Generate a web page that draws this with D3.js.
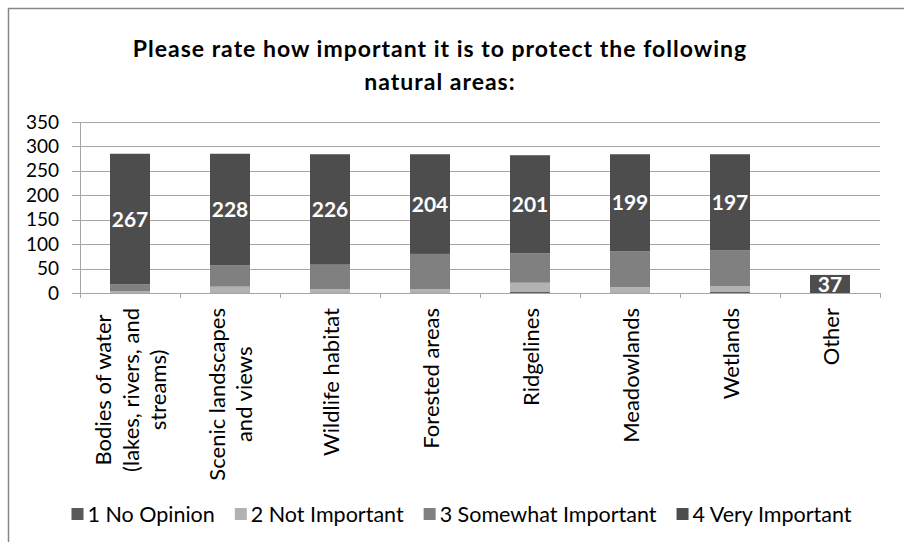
<!DOCTYPE html>
<html>
<head>
<meta charset="utf-8">
<script src="https://cdn.jsdelivr.net/npm/d3@7"></script>
<style>
    body { margin: 0; background: #fff; }
    svg text { font-family: Lato, "Open Sans", sans-serif; }
</style>
</head>
<body>
<div id="chart"></div>
<script>
    // data
    const categories = ["Bodies of water (lakes, rivers, and streams)", "Scenic landscapes and views",
        "Wildlife habitat", "Forested areas", "Ridgelines", "Meadowlands", "Wetlands", "Other"];
    const categoryLines = [["Bodies of water", "(lakes, rivers, and", "streams)"], ["Scenic landscapes", "and views"],
        ["Wildlife habitat"], ["Forested areas"], ["Ridgelines"], ["Meadowlands"], ["Wetlands"], ["Other"]];
    const seriesNames = ["1 No Opinion", "2 Not Important", "3 Somewhat Important", "4 Very Important"];
    const noOpinion = [1, 1, 1, 1, 2, 1, 2, 0];
    const notImportant = [3, 12, 7, 7, 19, 11, 12, 0];
    const somewhatImportant = [14, 44, 50, 72, 60, 73, 73, 0];
    const veryImportant = [267, 228, 226, 204, 201, 199, 197, 37];
    const yTicks = [0, 50, 100, 150, 200, 250, 300, 350];
    const colors = ["#595959", "#b2b2b2", "#808080", "#4d4d4d"];

    const width = 904, height = 542;
    const plotLeft = 80, plotRight = 880, plotTop = 122, plotBottom = 293;

    const svg = d3.select("#chart").append("svg")
        .attr("width", width)
        .attr("height", height);

    // frame (only top & left edges are visible in the crop)
    svg.append("path")
        .attr("d", `M8.5,${height} V8.5 H${width}`)
        .attr("fill", "none")
        .attr("stroke", "#868686")
        .attr("stroke-width", 1.5);

    // title
    const title = svg.append("text")
        .attr("text-anchor", "middle")
        .attr("font-weight", "bold")
        .attr("font-size", 23)
        .attr("letter-spacing", 1)
        .attr("fill", "#000");
    title.append("tspan").attr("x", 440).attr("y", 57).text("Please rate how important it is to protect the following");
    title.append("tspan").attr("x", 440).attr("y", 90).text("natural areas:");

    const x = d3.scaleBand()
        .domain(categories)
        .range([plotLeft, plotRight])
        .paddingInner(0.6)
        .paddingOuter(0.3);

    const y = d3.scaleLinear()
        .domain([0, 350])
        .range([plotBottom, plotTop]);

    // gridlines (with outside tick marks)
    svg.append("g").selectAll("line")
        .data(yTicks)
        .join("line")
        .attr("x1", plotLeft - 8).attr("x2", plotRight)
        .attr("y1", d => Math.round(y(d)) + 0.5).attr("y2", d => Math.round(y(d)) + 0.5)
        .attr("stroke", "#a6a6a6");

    // y labels
    const yg = svg.append("g")
        .attr("transform", `translate(${plotLeft},0)`)
        .call(d3.axisLeft(y).tickValues(yTicks).tickSize(0).tickPadding(21));
    yg.select(".domain").remove();
    yg.selectAll(".tick text")
        .attr("font-size", 19)
        .attr("font-family", "Lato, sans-serif")
        .attr("fill", "#000");

    // left axis line
    svg.append("line")
        .attr("x1", plotLeft + 0.5).attr("x2", plotLeft + 0.5)
        .attr("y1", plotTop).attr("y2", plotBottom + 5)
        .attr("stroke", "#a6a6a6");

    // category boundary ticks
    const bounds = d3.range(categories.length + 1).map(i => plotLeft + i * x.step());
    svg.append("g").selectAll("line")
        .data(bounds)
        .join("line")
        .attr("x1", d => d + 0.5).attr("x2", d => d + 0.5)
        .attr("y1", plotBottom).attr("y2", plotBottom + 5)
        .attr("stroke", "#a6a6a6");

    // stacked bars
    const rows = categories.map((c, i) => ({
        cat: c, s0: noOpinion[i], s1: notImportant[i], s2: somewhatImportant[i], s3: veryImportant[i]
    }));
    const stacked = d3.stack().keys(["s0", "s1", "s2", "s3"])(rows);

    svg.append("g").selectAll("g")
        .data(stacked)
        .join("g")
        .attr("fill", (d, i) => colors[i])
        .selectAll("rect")
        .data(d => d)
        .join("rect")
        .attr("x", d => x(d.data.cat))
        .attr("y", d => y(d[1]))
        .attr("width", x.bandwidth())
        .attr("height", d => y(d[0]) - y(d[1]));

    // value labels on the "Very Important" series
    svg.append("g").selectAll("text")
        .data(stacked[3])
        .join("text")
        .attr("x", d => x(d.data.cat) + x.bandwidth() / 2)
        .attr("y", d => (y(d[0]) + y(d[1])) / 2)
        .attr("dy", "0.36em")
        .attr("text-anchor", "middle")
        .attr("font-weight", "bold")
        .attr("font-size", 21)
        .attr("fill", "#fff")
        .text(d => d.data.s3);

    // rotated category labels
    const lineH = 27.5;
    categories.forEach((c, i) => {
        const lines = categoryLines[i];
        const g = svg.append("g")
            .attr("transform", `translate(${x(c) + x.bandwidth() / 2},308) rotate(-90)`);
        const texts = g.selectAll("text")
            .data(lines)
            .join("text")
            .attr("y", (d, j) => (j - (lines.length - 1) / 2) * lineH)
            .attr("dominant-baseline", "central")
            .attr("text-anchor", "middle")
            .attr("font-size", 22)
            .attr("fill", "#000")
            .text(d => d);
        let maxW = 0;
        texts.each(function() { maxW = Math.max(maxW, this.getComputedTextLength()); });
        texts.attr("x", -maxW / 2);
    });

    // legend
    const legend = svg.append("g").attr("transform", "translate(0,514)");
    const items = legend.selectAll("g")
        .data(seriesNames)
        .join("g");
    items.append("rect")
        .attr("y", -6).attr("width", 12).attr("height", 12)
        .attr("fill", (d, i) => colors[i]);
    items.append("text")
        .attr("x", 16)
        .attr("dy", "0.35em")
        .attr("font-size", 21.5)
        .attr("fill", "#000")
        .text(d => d);
    let widths = [];
    items.select("text").each(function() { widths.push(16 + this.getComputedTextLength()); });
    const gap = 20;
    const total = d3.sum(widths) + gap * (widths.length - 1);
    let cx = 461.5 - total / 2;
    items.attr("transform", (d, i) => {
        const pos = cx;
        cx += widths[i] + gap;
        return `translate(${pos},0)`;
    });
</script>
</body>
</html>
